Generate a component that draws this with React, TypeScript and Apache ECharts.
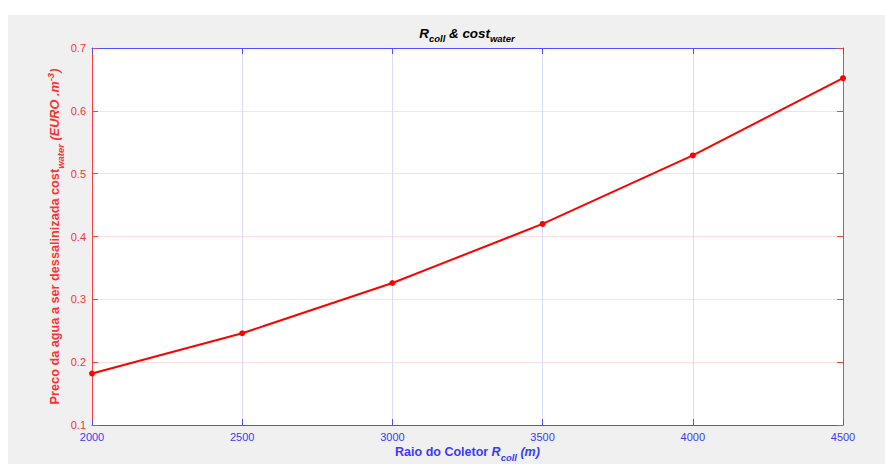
import React, { useEffect, useRef } from "react";
import * as echarts from "echarts";

const radius = [2000, 2500, 3000, 3500, 4000, 4500];
const costWater = [0.182, 0.246, 0.326, 0.42, 0.529, 0.652];
const xRange = [2000, 4500, 500];
const yRange = [0.1, 0.7, 0.1];

const FONT = "'Liberation Sans', Arial, Helvetica, sans-serif";
const BLUE_LINE = "#5050ff";
const BLUE_TEXT = "#3a3aff";
const RED_LINE = "#ff4040";
const RED_TEXT = "#ff3030";

export default function App() {
  const ref = useRef<HTMLDivElement>(null);
  useEffect(() => {
    if (!ref.current) return;
    const chart = echarts.init(ref.current, undefined, { renderer: "svg" });
    const axisCommon = {
      type: "value" as const,
    };
    chart.setOption({
      animation: false,
      backgroundColor: "#f0f0f0",
      textStyle: { fontFamily: FONT },
      title: {
        left: 459,
        top: 8,
        padding: 0,
        textAlign: "center",
        text: "{t|R}{ts|coll}{t| & cost}{ts|water}",
        textStyle: {
          rich: {
            t: { fontFamily: FONT, fontSize: 13.4, fontWeight: "bold", fontStyle: "italic", color: "#000", lineHeight: 20, verticalAlign: "middle" },
            ts: { fontFamily: FONT, fontSize: 9.5, fontWeight: "bold", fontStyle: "italic", color: "#000", lineHeight: 10, verticalAlign: "bottom" },
          },
        },
      },
      grid: {
        left: 84,
        top: 33,
        right: 42,
        bottom: 39,
        outerBoundsMode: "none",
        containLabel: false,
        show: true,
        backgroundColor: "#ffffff",
        borderWidth: 0,
      },
      xAxis: [
        {
          ...axisCommon,
          position: "bottom",
          min: xRange[0],
          max: xRange[1],
          interval: xRange[2],
          axisLine: { show: true, lineStyle: { color: BLUE_LINE, width: 1 } },
          axisTick: { show: true, inside: true, length: 6, lineStyle: { color: BLUE_LINE } },
          axisLabel: { color: BLUE_TEXT, fontSize: 11, margin: 6, fontFamily: FONT, formatter: (v: number) => String(v) },
          splitLine: { show: true, lineStyle: { color: "#dcdcff", width: 1 } },
          name: "{n|Raio do Coletor }{ni|R}{ns|coll}{ni| (m)}",
          nameLocation: "middle",
          nameGap: 17,
          nameMoveOverlap: false,
          nameTextStyle: {
            rich: {
              n: { fontFamily: FONT, fontSize: 12.5, fontWeight: "bold", color: BLUE_TEXT, lineHeight: 20, verticalAlign: "middle" },
              ni: { fontFamily: FONT, fontSize: 12.5, fontWeight: "bold", fontStyle: "italic", color: BLUE_TEXT, lineHeight: 20, verticalAlign: "middle" },
              ns: { fontFamily: FONT, fontSize: 9.5, fontWeight: "bold", fontStyle: "italic", color: BLUE_TEXT, lineHeight: 10, verticalAlign: "bottom" },
            },
          },
        },
        {
          ...axisCommon,
          position: "top",
          min: xRange[0],
          max: xRange[1],
          interval: xRange[2],
          axisLine: { show: true, lineStyle: { color: BLUE_LINE, width: 1 } },
          axisTick: { show: true, inside: true, length: 6, lineStyle: { color: BLUE_LINE } },
          axisLabel: { show: false },
          splitLine: { show: false },
        },
      ],
      yAxis: [
        {
          ...axisCommon,
          position: "left",
          min: yRange[0],
          max: yRange[1],
          interval: yRange[2],
          axisLine: { show: true, lineStyle: { color: RED_LINE, width: 1 } },
          axisTick: { show: true, inside: true, length: 6, lineStyle: { color: RED_LINE } },
          axisLabel: { color: RED_TEXT, fontSize: 11, margin: 6, fontFamily: FONT, formatter: (v: number) => v.toFixed(1) },
          splitLine: { show: true, lineStyle: { color: "#ffdede", width: 1 } },
          name: "{n|Preco da agua a ser dessalinizada cost}{ns|water}{ni| (EURO .m}{nsup|-3}{ni|)}",
          nameLocation: "middle",
          nameGap: 27,
          nameMoveOverlap: false,
          nameTextStyle: {
            rich: {
              n: { fontFamily: FONT, fontSize: 12.7, fontWeight: "bold", color: RED_TEXT, lineHeight: 20, verticalAlign: "middle" },
              ni: { fontFamily: FONT, fontSize: 12.7, fontWeight: "bold", fontStyle: "italic", color: RED_TEXT, lineHeight: 20, verticalAlign: "middle" },
              ns: { fontFamily: FONT, fontSize: 9.5, fontWeight: "bold", fontStyle: "italic", color: RED_TEXT, lineHeight: 10, verticalAlign: "bottom" },
              nsup: { fontFamily: FONT, fontSize: 9.5, fontWeight: "bold", fontStyle: "italic", color: RED_TEXT, lineHeight: 10, verticalAlign: "top" },
            },
          },
        },
        {
          ...axisCommon,
          position: "right",
          min: yRange[0],
          max: yRange[1],
          interval: yRange[2],
          axisLine: { show: true, lineStyle: { color: RED_LINE, width: 1 } },
          axisTick: { show: true, inside: true, length: 6, lineStyle: { color: RED_LINE } },
          axisLabel: { show: false },
          splitLine: { show: false },
        },
      ],
      series: [
        {
          type: "line",
          xAxisIndex: 0,
          yAxisIndex: 0,
          data: radius.map((r, i) => [r, costWater[i]]),
          symbol: "circle",
          symbolSize: 6,
          lineStyle: { color: "#ff0000", width: 2 },
          itemStyle: { color: "#ff0000" },
        },
      ],
    });
    return () => chart.dispose();
  }, []);
  return (
    <div
      ref={ref}
      style={{ position: "fixed", left: 8, top: 15, width: 877, height: 449 }}
    />
  );
}
